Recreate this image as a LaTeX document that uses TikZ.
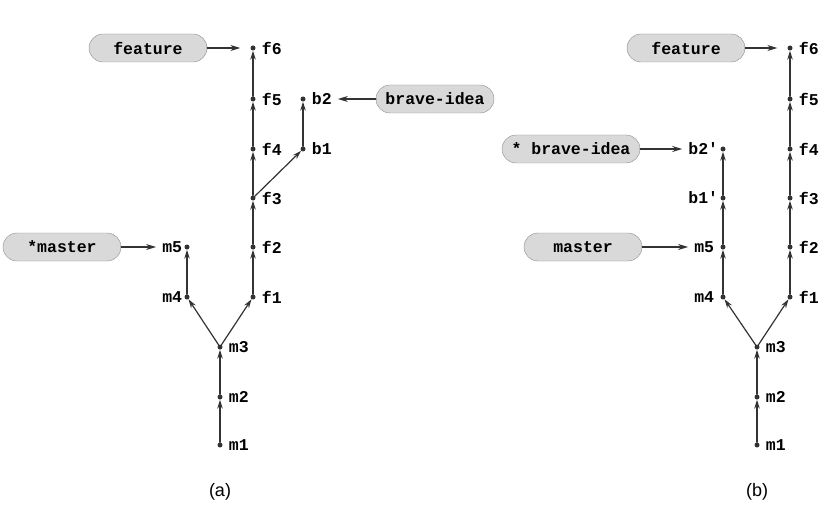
\documentclass[tikz,border=0pt]{standalone}
\usepackage{fontspec}
\setmainfont{Liberation Sans}
\setmonofont{Liberation Mono}
\usetikzlibrary{arrows.meta}
\tikzset{
	commit/.style={circle,fill=black!80,inner sep=0pt,minimum size=5pt},
	lbl/.style={font=\fontsize{16.5}{18}\selectfont\ttfamily\bfseries,inner sep=1pt,label distance=5pt},
	branch/.style={draw=black!45,fill=black!15,rounded corners=14pt,minimum width=118pt,minimum height=28pt,
		font=\fontsize{16.5}{18}\selectfont\ttfamily\bfseries},
	edge/.style={-{Stealth[length=9pt,width=5.5pt]},black!80,line width=1.2pt},
	ptr/.style={-{Stealth[length=10pt,width=6pt]},black!80,line width=1.2pt}
}
\begin{document}
\begin{tikzpicture}[x=1pt,y=-1pt,line join=round,line cap=round]
	\useasboundingbox (0,0) rectangle (825,516);
	% (a) before the rebase
	\node[commit,label={[lbl]right:m1}] (m1) at (220,445) {};
	\node[commit,label={[lbl]right:m2}] (m2) at (220,397) {};
	\node[commit,label={[lbl]right:m3}] (m3) at (220,347) {};
	\node[commit,label={[lbl,label distance=1pt]left:m4}] (m4) at (187,297) {};
	\node[commit,label={[lbl,name=lm5,label distance=1pt]left:m5}] (m5) at (187,247) {};
	\foreach \i/\y in {1/297,2/247,3/198,4/149,5/99,6/48}
		\node[commit,label={[lbl]right:f\i}] (f\i) at (253,\y) {};
	\node[commit,label={[lbl]right:b1}] (b1) at (303,149) {};
	\node[commit,label={[lbl,name=lb2]right:b2}] (b2) at (303,99) {};
	\draw[edge] (m1)--(m2);
	\draw[edge] (m2)--(m3);
	\draw[edge] (m3)--(m4);
	\draw[edge] (m4)--(m5);
	\draw[edge] (m3)--(f1);
	\foreach \a/\b in {1/2,2/3,3/4,4/5,5/6}
		\draw[edge] (f\a)--(f\b);
	\draw[edge] (f3)--(b1);
	\draw[edge] (b1)--(b2);
	\node[branch] (feat) at (148,48) {feature};
	\node[branch] (mast) at (62,247) {*master};
	\node[branch] (brave) at (435,99) {brave-idea};
	\draw[ptr,shorten >=10pt] (feat)--(f6);
	\draw[ptr,shorten >=5pt] (mast)--(lm5);
	\draw[ptr,shorten >=5pt] (brave)--(lb2);
	\node[font=\fontsize{18}{20}\selectfont] (capa) at (220,492) {(a)};
	% (b) after the rebase
	\node[commit,label={[lbl]right:m1}] (n1) at (757,445) {};
	\node[commit,label={[lbl]right:m2}] (n2) at (757,397) {};
	\node[commit,label={[lbl]right:m3}] (n3) at (757,347) {};
	\node[commit,label={[lbl]left:m4}] (n4) at (723,297) {};
	\node[commit,label={[lbl,name=ln5]left:m5}] (n5) at (723,247) {};
	\node[commit,label={[lbl,label distance=1pt]left:b1'}] (c1) at (723,198) {};
	\node[commit,label={[lbl,name=lc2,label distance=1pt]left:b2'}] (c2) at (723,149) {};
	\foreach \i/\y in {1/297,2/247,3/198,4/149,5/99,6/48}
		\node[commit,label={[lbl]right:f\i}] (g\i) at (790,\y) {};
	\draw[edge] (n1)--(n2);
	\draw[edge] (n2)--(n3);
	\draw[edge] (n3)--(n4);
	\draw[edge] (n4)--(n5);
	\draw[edge] (n5)--(c1);
	\draw[edge] (c1)--(c2);
	\draw[edge] (n3)--(g1);
	\foreach \a/\b in {1/2,2/3,3/4,4/5,5/6}
		\draw[edge] (g\a)--(g\b);
	\node[branch] (featb) at (686,48) {feature};
	\node[branch,minimum width=138pt] (braveb) at (571,149) {* brave-idea};
	\node[branch] (mastb) at (583,247) {master};
	\draw[ptr,shorten >=10pt] (featb)--(g6);
	\draw[ptr,shorten >=5pt] (braveb)--(lc2);
	\draw[ptr,shorten >=5pt] (mastb)--(ln5);
	\node[font=\fontsize{18}{20}\selectfont] (capb) at (757,492) {(b)};
\end{tikzpicture}
\end{document}
